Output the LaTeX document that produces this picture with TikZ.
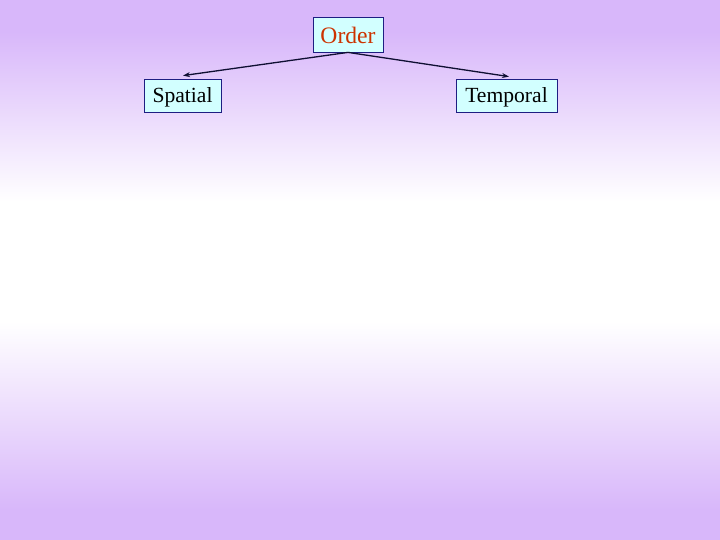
\documentclass[tikz,border=0pt]{standalone}
\usepackage{fontspec}
\setmainfont{Liberation Serif}
\usetikzlibrary{arrows.meta}
\definecolor{bgpurple}{RGB}{216,183,250}
\definecolor{boxfill}{RGB}{210,255,255}
\definecolor{boxline}{RGB}{30,30,130}
\definecolor{ordertext}{RGB}{204,51,0}
\definecolor{arrowcol}{RGB}{15,15,50}
\begin{document}
\begin{tikzpicture}[x=1pt,y=1pt,
  box/.style={draw=boxline, fill=boxfill, line width=0.8pt, inner sep=0pt, font=\fontsize{21.6}{24}\selectfont, text height=16pt, text depth=2.4pt},
  conn/.style={-{Stealth[length=7pt,width=5pt]}, line width=1.3pt, arrowcol}]
\fill[bgpurple] (0,508) rectangle (720,540);
\shade[top color=bgpurple, bottom color=white] (0,338) rectangle (720,508.5);
\fill[white] (0,218) rectangle (720,338.5);
\shade[top color=white, bottom color=bgpurple] (0,30) rectangle (720,218.5);
\fill[bgpurple] (0,0) rectangle (720,30.5);
\useasboundingbox (0,0) rectangle (720,540);
\node[box, minimum width=70, minimum height=35, text=ordertext, font=\fontsize{23.6}{26}\selectfont, text height=20pt, text depth=2.4pt] (order) at (348,505.5) {Order};
\node[box, minimum width=77, minimum height=33] (spatial) at (182.5,444.5) {Spatial};
\node[box, minimum width=101, minimum height=33] (temporal) at (506.5,444.5) {Temporal};
\coordinate (ob) at (order.south);
\draw[conn] (ob) -- ([xshift=0.5pt,yshift=3pt]spatial.north);
\draw[conn] (ob) -- ([xshift=2.5pt,yshift=2pt]temporal.north);
\end{tikzpicture}
\end{document}
